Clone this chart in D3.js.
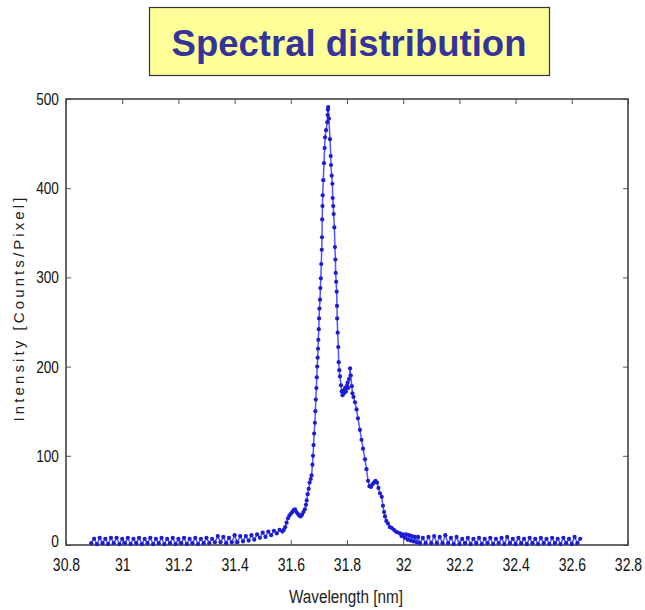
<!DOCTYPE html>
<html>
<head>
<meta charset="utf-8">
<script src="https://cdn.jsdelivr.net/npm/d3@7"></script>
<style>
  body { margin: 0; background: #fff; }
  .tick text { font-family: "Liberation Sans", Arial, sans-serif; fill: #111; }
</style>
</head>
<body>
<div id="chart"></div>
<script>
/* spectrum data: [wavelength nm, counts/pixel] */
var baselineLeft = [
  [30.89,2],[30.90,7],[30.91,1],[30.92,8],[30.93,2],[30.94,7],[30.95,1],[30.96,8],[30.97,2],[30.98,8],
  [30.99,1],[31.00,7],[31.01,2],[31.02,8],[31.03,1],[31.04,7],[31.05,2],[31.06,8],[31.07,1],[31.08,7],
  [31.09,2],[31.10,8],[31.11,1],[31.12,7],[31.13,2],[31.14,8],[31.15,1],[31.16,7],[31.17,2],[31.18,8],
  [31.19,1],[31.20,7],[31.21,2],[31.22,8],[31.23,1],[31.24,7],[31.25,2],[31.26,8],[31.27,1],[31.28,7],
  [31.29,2],[31.30,8],[31.31,2],[31.32,7],[31.33,3],[31.34,10],[31.35,3],[31.36,9],[31.37,2],[31.38,8],
  [31.39,3],[31.40,11],[31.41,3],[31.42,10],[31.43,4],[31.44,10],[31.45,5],[31.46,11],[31.47,6],[31.48,12],
  [31.49,8],[31.50,14],[31.51,9],[31.52,15],[31.53,11],[31.54,16],[31.55,13],[31.56,17],[31.57,15]
];

var shoulderLeft = [
  [31.575,17],[31.58,20],[31.585,25],[31.59,30],[31.595,33],[31.60,35],[31.605,37],[31.61,39],
  [31.615,40],[31.62,37],[31.625,35],[31.63,33],[31.635,32],[31.64,34],[31.645,37],[31.65,40]
];

var mainPeak = [
  [31.654,45],[31.6566,50],[31.660,57],[31.6637,63],[31.667,70],[31.671,74],[31.674,78],[31.677,90],
  [31.679,100],[31.681,112],[31.683,125],[31.6857,137],[31.6875,150],[31.689,163],[31.691,176],[31.6925,188],
  [31.694,200],[31.6957,210],[31.697,220],[31.698,230],[31.6996,242],[31.7007,254],[31.702,265],[31.7039,275],
  [31.7053,288],[31.7068,299],[31.7085,315],[31.710,331],[31.711,345],[31.7117,365],[31.7128,380],[31.7135,392],
  [31.7157,409],[31.718,428],[31.7203,445],[31.722,457],[31.7255,465],[31.730,474],[31.731,482],[31.732,488],
  [31.733,491],[31.7356,478],[31.7395,455],[31.742,436],[31.743,426],[31.7455,414],[31.748,405],[31.749,389],
  [31.751,380],[31.7526,371],[31.755,356],[31.7572,334],[31.7587,320],[31.7597,305],[31.7615,295],[31.7633,284],
  [31.7644,268],[31.765,254],[31.7668,238],[31.769,222],[31.7705,205],[31.7726,196],[31.775,189],[31.7786,179]
];

var shoulderRight = [
  [31.781,172],[31.784,168],[31.787,173],[31.789,170],[31.793,176],[31.7965,172],[31.799,178],[31.802,182],
  [31.804,176],[31.807,186],[31.811,198],[31.8135,190],[31.817,178],[31.8195,170],[31.823,166],[31.8285,160],
  [31.834,152],[31.839,142],[31.846,129],[31.8516,118],[31.857,108],[31.864,96],[31.8694,85],[31.875,72],
  [31.880,66],[31.8854,65],[31.8907,68],[31.896,70],[31.9014,72],[31.9068,70],[31.912,64],[31.9174,58],
  [31.9235,54],[31.928,44],[31.932,37],[31.9352,32],[31.940,27],[31.946,24],[31.953,20],[31.960,19],
  [31.967,17],[31.974,15],[31.981,14],[31.989,13],[31.994,10],[31.999,12],[32.005,8],[32.010,12],
  [32.016,6],[32.021,11],[32.026,5],[32.031,10],[32.037,4],[32.042,9],[32.048,3],[32.053,9]
];

var baselineRight = [
  [32.06,2],[32.07,8],[32.08,2],[32.09,9],[32.10,2],[32.11,10],[32.12,2],[32.13,9],[32.14,2],[32.15,11],
  [32.16,2],[32.17,8],[32.18,1],[32.19,9],[32.20,1],[32.21,7],[32.22,2],[32.23,8],[32.24,1],[32.25,7],
  [32.26,2],[32.27,8],[32.28,1],[32.29,7],[32.30,2],[32.31,8],[32.32,1],[32.33,7],[32.34,2],[32.35,8],
  [32.36,1],[32.37,9],[32.38,2],[32.39,7],[32.40,1],[32.41,8],[32.42,2],[32.43,7],[32.44,1],[32.45,8],
  [32.46,2],[32.47,7],[32.48,1],[32.49,8],[32.50,2],[32.51,7],[32.52,1],[32.53,8],[32.54,2],[32.55,7],
  [32.56,1],[32.57,8],[32.58,2],[32.59,7],[32.60,1],[32.61,9],[32.62,2],[32.63,7]
];

var xTicks = [30.8, 31, 31.2, 31.4, 31.6, 31.8, 32, 32.2, 32.4, 32.6, 32.8];
var yTicks = [0, 100, 200, 300, 400, 500];

var titleText = "Spectral distribution";
var xLabel = "Wavelength [nm]";
var yLabel = "Intensity [Counts/Pixel]";

var data = baselineLeft.concat(shoulderLeft, mainPeak, shoulderRight, baselineRight);

var width = 645;
var height = 610;
var plot = {left: 66, right: 628, top: 99, bottom: 545};

var svg = d3.select("#chart").append("svg")
    .attr("width", width)
    .attr("height", height);

/* title box */
svg.append("rect")
    .attr("x", 149.5).attr("y", 7.5)
    .attr("width", 400).attr("height", 68)
    .attr("fill", "#ffff99")
    .attr("stroke", "#333")
    .attr("stroke-width", 1.2);

svg.append("text")
    .attr("x", 349).attr("y", 56)
    .attr("text-anchor", "middle")
    .style("font-family", "'Liberation Sans', Arial, sans-serif")
    .style("font-weight", "bold")
    .style("font-size", "36.5px")
    .attr("fill", "#333399")
    .text(titleText);

/* scales */
var x = d3.scaleLinear().domain([30.8, 32.8]).range([plot.left, plot.right]);
var y = d3.scaleLinear().domain([0, 500]).range([plot.bottom, plot.top]);

/* axes, matlab style: ticks pointing in on all four sides */
svg.append("g")
    .attr("transform", `translate(0, ${plot.bottom})`)
    .call(d3.axisBottom(x).tickValues(xTicks).tickFormat(d3.format("")).tickSizeInner(-5).tickSizeOuter(0).tickPadding(13))
    .call(g => g.select(".domain").remove())
    .call(g => g.selectAll(".tick line").attr("stroke", "#555"))
    .call(g => g.selectAll(".tick text").style("font-size", "18px").attr("transform", "scale(0.78,1)"));

svg.append("g")
    .attr("transform", `translate(0, ${plot.top})`)
    .call(d3.axisTop(x).tickValues(xTicks).tickFormat("").tickSizeInner(-5).tickSizeOuter(0))
    .call(g => g.select(".domain").remove())
    .call(g => g.selectAll(".tick line").attr("stroke", "#555"));

svg.append("g")
    .attr("transform", `translate(${plot.left}, 0)`)
    .call(d3.axisLeft(y).tickValues(yTicks).tickFormat(d3.format("d")).tickSizeInner(-5).tickSizeOuter(0).tickPadding(9))
    .call(g => g.select(".domain").remove())
    .call(g => g.selectAll(".tick line").attr("stroke", "#555"))
    .call(g => g.selectAll(".tick text").style("font-size", "17px").attr("transform", "scale(0.8,1)"))
    .call(g => g.selectAll(".tick").filter(d => d === 0).select("text").attr("dy", "0.1em"));

svg.append("g")
    .attr("transform", `translate(${plot.right}, 0)`)
    .call(d3.axisRight(y).tickValues(yTicks).tickFormat("").tickSizeInner(-5).tickSizeOuter(0))
    .call(g => g.select(".domain").remove())
    .call(g => g.selectAll(".tick line").attr("stroke", "#555"));

/* frame */
svg.append("rect")
    .attr("x", plot.left).attr("y", plot.top)
    .attr("width", plot.right - plot.left)
    .attr("height", plot.bottom - plot.top)
    .attr("fill", "none")
    .attr("stroke", "#444")
    .attr("stroke-width", 1.6);

/* spectrum: thin line plus dots */
var line = d3.line()
    .x(d => x(d[0]))
    .y(d => y(d[1]));

svg.append("path")
    .datum(data)
    .attr("d", line)
    .attr("fill", "none")
    .attr("stroke", "#2a2aff")
    .attr("stroke-width", 1.5)
    .attr("opacity", 0.8);

svg.append("g")
    .selectAll("circle")
    .data(data).enter()
    .append("circle")
    .attr("cx", d => x(d[0]))
    .attr("cy", d => y(d[1]))
    .attr("r", 2.1)
    .attr("fill", "#1c1cd0");

/* axis labels */
svg.append("text")
    .attr("x", 346).attr("y", 603)
    .attr("text-anchor", "middle")
    .attr("textLength", 114)
    .attr("lengthAdjust", "spacingAndGlyphs")
    .style("font-family", "'Liberation Sans', Arial, sans-serif")
    .style("font-size", "18px")
    .attr("fill", "#222")
    .text(xLabel);

svg.append("text")
    .attr("transform", "translate(24, 308) rotate(-90)")
    .attr("text-anchor", "middle")
    .style("font-family", "'Liberation Sans', Arial, sans-serif")
    .style("font-size", "15px")
    .style("letter-spacing", "3.1px")
    .attr("fill", "#222")
    .text(yLabel);
</script>
</body>
</html>
